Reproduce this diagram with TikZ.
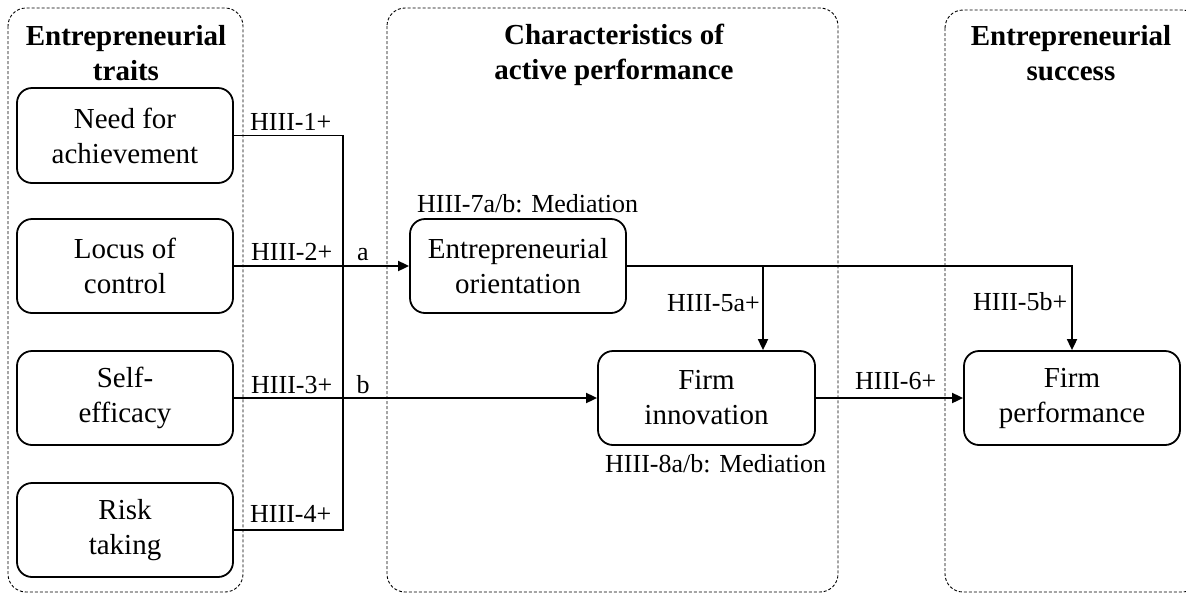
\documentclass[tikz,border=0pt]{standalone}
\usepackage{fontspec}
\setmainfont{Liberation Serif}
\usetikzlibrary{arrows.meta}
\begin{document}
\begin{tikzpicture}[x=1pt,y=-1pt,
  grp/.style={draw, line width=0.9pt, dash pattern=on 3pt off 2pt, rounded corners=18pt},
  title/.style={font=\fontsize{29}{35}\selectfont\bfseries, align=center, inner sep=0pt},
  box/.style={draw, line width=1.8pt, rounded corners=15pt, minimum width=216pt, minimum height=94pt,
    align=center, inner sep=0pt, font=\fontsize{29}{35}\selectfont},
  lab/.style={font=\fontsize{26}{30}\selectfont, inner sep=0pt},
  con/.style={line width=1.8pt},
  arr/.style={con, -{Triangle[length=11pt,width=10pt]}}]
\useasboundingbox (0,0) rectangle (1186,595);
% groups
\draw[grp] (8,8) rectangle (243,592);
\draw[grp] (387,8) rectangle (838,592);
\draw[grp] (945,10) rectangle (1200,592);
% titles
\node[title] (t1) at (126,53) {Entrepreneurial\\traits};
\node[title] (t2) at (614,55) {Characteristics of\\active performance};
\node[title] (t3) at (1071,53) {Entrepreneurial\\success};
% boxes
\node[box, minimum height=95pt] (nach) at (125,135.5) {Need for\\achievement};
\node[box] (loc) at (125,266) {Locus of\\control};
\node[box] (self) at (125,398) {Self-\\efficacy};
\node[box] (risk) at (125,530) {Risk\\taking};
\node[box] (eo) at (518,266) {Entrepreneurial\\orientation};
\node[box, minimum width=217pt] (fi) at (706.5,398) {Firm\\innovation};
\node[box] (fp) at (1072,398) {Firm\\performance};
% connectors
\coordinate (j1) at (343,135.5);
\coordinate (j4) at (343,530);
\coordinate (br) at (763,266);
\draw[con] (nach.east) -- (j1) -- (j4) -- (risk.east);
\draw[arr] (loc.east) -- (eo.west);
\draw[arr] (self.east) -- (fi.west);
\draw[arr] (eo.east) -| (fp.north);
\draw[arr] (br) -- (br |- fi.north);
\draw[arr] (fi.east) -- (fp.west);
% labels
\node[lab, anchor=base west] (l1) at (250,130) {HIII-1+};
\node[lab, anchor=base west] (l2) at (251,260) {HIII-2+};
\node[lab, anchor=base] (la) at (363,260) {a};
\node[lab, anchor=base west] (l3) at (251,393) {HIII-3+};
\node[lab, anchor=base] (lb) at (363,393) {b};
\node[lab, anchor=base west] (l4) at (250,522) {HIII-4+};
\node[lab, anchor=base west] (l7) at (417,212) {HIII-7a/b: Mediation};
\node[lab, anchor=base west] (l5a) at (667,311) {HIII-5a+};
\node[lab, anchor=base west] (l5b) at (973,310) {HIII-5b+};
\node[lab, anchor=base west] (l6) at (855,389) {HIII-6+};
\node[lab, anchor=base west] (l8) at (605,472) {HIII-8a/b: Mediation};
\end{tikzpicture}
\end{document}
